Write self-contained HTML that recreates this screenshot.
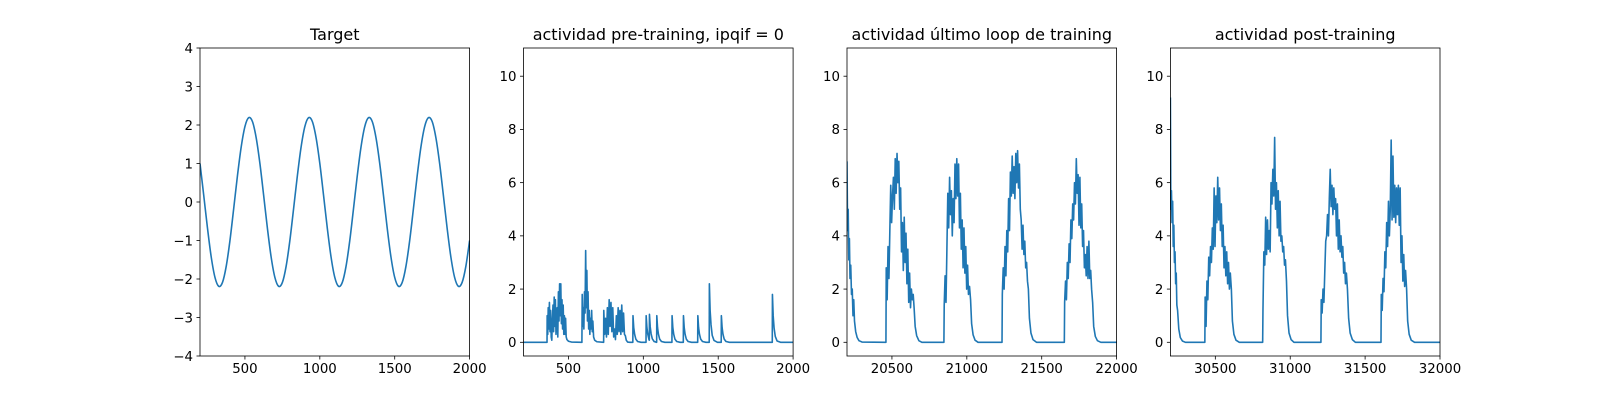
<!DOCTYPE html>
<html><head><meta charset="utf-8"><style>
html,body{margin:0;padding:0;background:#fff;}
svg text{font-family:"DejaVu Sans","Liberation Sans",sans-serif;fill:#000;}
</style></head><body>
<svg id="fig" width="1600" height="400" viewBox="0 0 1600 400" xmlns="http://www.w3.org/2000/svg"></svg>
<script>
// ---- Panel 1: target ----
const targetX = [200,225,250,275,300,325,350,375,400,425,450,475,500,525,550,575,600,625,650,675,700,725,750,775,800,825,850,875,900,925,950,975,1000,1025,1050,1075,1100,1125,1150,1175,1200,1225,1250,1275,1300,1325,1350,1375,1400,1425,1450,1475,1500,1525,1550,1575,1600,1625,1650,1675,1700,1725,1750,1775,1800,1825,1850,1875,1900,1925,1950,1975,2000];
const targetY = [1.00,0.17,-0.68,-1.43,-1.96,-2.19,-2.09,-1.67,-1.00,-0.17,0.68,1.43,1.96,2.19,2.09,1.67,
1.00,0.17,-0.68,-1.43,-1.96,-2.19,-2.09,-1.67,-1.00,-0.17,0.68,1.43,1.96,2.19,2.09,1.67,
1.00,0.17,-0.68,-1.43,-1.96,-2.19,-2.09,-1.67,-1.00,-0.17,0.68,1.43,1.96,2.19,2.09,1.67,
1.00,0.17,-0.68,-1.43,-1.96,-2.19,-2.09,-1.67,-1.00,-0.17,0.68,1.43,1.96,2.19,2.09,1.67,
1.00,0.17,-0.68,-1.43,-1.96,-2.19,-2.09,-1.67,-1.00];
// ---- Panel 2: pre-training ----
const preX = [200,357,358,362,365,369,373,377,381,385,389,393,397,401,405,409,413,417,421,425,429,433,437,441,445,449,453,457,461,465,469,473,477,481,485,490,500,520,590,
592,596,600,603,607,611,615,619,623,627,631,635,639,643,647,651,655,659,663,668,675,690,735,
736,742,748,754,760,766,772,778,784,790,796,802,808,814,820,826,832,838,844,850,856,862,868,874,880,886,895,910,
930,931,936,942,950,962,985,1018,1019,1024,1030,1038,1040,1041,1046,1052,1060,1072,1089,1090,1095,1101,1109,1121,1144,1191,1192,1197,1203,1211,1223,1246,1267,1268,1273,1279,1287,1299,1322,1363,1364,1369,1375,1383,1395,1418,1440,1441,1446,1452,1460,1472,1495,1520,1521,1526,1532,1540,1552,1575,1861,1862,1867,1873,1881,1893,1916,2000];
const preY = [0,0,1.0,0.3,1.3,0.5,1.5,0.4,1.2,0.2,0.08,0.9,1.4,0.4,1.7,0.6,1.6,0.3,0.9,1.3,0.2,1.9,0.8,2.2,1.0,2.2,0.7,1.6,0.5,1.4,0.3,1.0,0.3,0.9,0.2,0.1,0.04,0.01,0,
1.8,0.6,1.3,0.5,1.9,1.1,3.45,1.3,2.7,0.8,1.9,0.5,1.2,0.3,0.9,0.5,1.2,0.4,0.8,0.2,0.08,0.02,0,
1.2,0.3,0.9,0.2,1.3,0.3,1.6,0.6,1.5,0.4,1.3,0.2,0.5,0.1,1.0,0.3,1.3,0.4,1.2,0.3,1.4,0.4,1.1,0.3,0.25,0.08,0.01,0,
0,1.0,0.55,0.3,0.12,0.03,0,0,1.0,0.55,0.3,0.1,0.08,1.05,0.58,0.32,0.13,0.03,0,1.0,0.55,0.3,0.12,0.03,0,0,1.0,0.55,0.3,0.12,0.03,0,0,1.0,0.55,0.3,0.12,0.03,0,0,1.0,0.55,0.3,0.12,0.03,0,0,2.2,1.2,0.66,0.26,0.07,0,0,1.0,0.55,0.3,0.12,0.03,0,0,1.8,1.0,0.54,0.22,0.05,0,0];
// ---- Panel 3: last training loop ----
const lastX = [20200,20204,20208,20212,20216,20220,20225,20230,20235,20240,20245,20250,20258,20268,20280,20300,20459,
20460,20462,20468,20474,20480,20486,20492,20498,20504,20510,20516,20522,20528,20534,20540,20546,20552,20558,20564,20570,20576,20582,20588,20594,20600,20606,20612,20618,20624,20630,20636,20642,20648,20655,20665,20680,20700,
20847,20849,20855,20861,20867,20873,20879,20885,20891,20897,20903,20909,20915,20921,20927,20933,20939,20945,20951,20957,20963,20969,20975,20981,20987,20993,20999,21005,21011,21018,21025,21032,21042,21055,21075,
21235,21237,21243,21249,21255,21261,21267,21273,21279,21285,21291,21297,21303,21309,21315,21321,21327,21333,21339,21345,21351,21357,21363,21369,21375,21381,21387,21393,21399,21405,21411,21418,21428,21442,21465,
21651,21653,21659,21665,21671,21677,21683,21689,21695,21701,21707,21713,21719,21725,21731,21737,21743,21749,21755,21761,21767,21773,21779,21785,21791,21797,21803,21809,21815,21821,21827,21833,21840,21847,21858,21872,21895,22000];
const lastY = [6.8,4.2,5.0,3.1,3.9,2.4,2.9,1.8,2.0,1.0,1.6,0.8,0.4,0.18,0.06,0.01,0,
0,2.8,1.6,3.6,2.4,4.2,5.9,4.5,5.5,6.2,5.0,6.9,5.6,7.1,6.0,6.8,5.0,5.8,3.4,4.5,2.7,4.7,3.0,4.1,2.2,3.5,1.5,2.6,1.3,2.0,1.6,1.8,1.3,0.6,0.25,0.06,0,
0,1.4,2.5,1.5,3.5,5.6,4.3,6.2,4.8,5.7,4.0,5.4,4.5,6.7,5.4,6.9,5.5,6.7,4.3,5.6,3.5,4.6,2.8,4.3,2.6,3.6,2.0,2.9,1.8,2.1,1.6,0.7,0.28,0.08,0,
0,1.8,2.8,2.0,3.6,2.5,4.2,3.4,5.4,4.2,6.4,5.5,7.0,5.6,6.6,5.4,7.1,6.0,7.2,5.8,6.7,5.0,4.6,3.5,4.4,3.3,3.8,2.8,3.0,2.3,2.0,0.9,0.35,0.1,0,
0,1.5,2.3,1.6,3.0,2.4,3.7,3.0,4.6,3.9,5.2,4.6,6.0,5.2,6.9,5.6,6.3,4.4,6.2,4.3,5.2,3.6,4.2,2.8,3.3,2.5,3.6,2.4,3.8,2.4,2.7,2.0,1.5,0.6,0.22,0.06,0,0];
// ---- Panel 4: post-training ----
const postX = [30200,30203,30207,30211,30215,30219,30223,30227,30231,30235,30239,30243,30248,30256,30266,30280,30300,30430,
30432,30438,30444,30450,30456,30462,30468,30474,30480,30486,30492,30498,30504,30510,30516,30522,30528,30534,30540,30546,30552,30558,30564,30570,30576,30582,30588,30594,30600,30607,30614,30624,30638,30660,
30816,30818,30824,30830,30836,30842,30848,30854,30860,30866,30872,30878,30884,30890,30896,30902,30908,30914,30920,30926,30932,30938,30944,30950,30956,30962,30968,30975,30982,30992,31006,31025,
31205,31207,31213,31219,31225,31231,31237,31243,31249,31255,31261,31267,31273,31279,31285,31291,31297,31303,31309,31315,31321,31327,31333,31339,31345,31351,31357,31363,31369,31375,31382,31390,31400,31415,31435,
31606,31608,31614,31620,31626,31632,31638,31644,31650,31656,31662,31668,31674,31680,31686,31692,31698,31704,31710,31716,31722,31728,31734,31740,31746,31752,31758,31764,31770,31777,31784,31794,31808,31830,32000];
const postY = [9.2,5.0,5.7,4.5,5.3,3.6,4.4,3.0,3.4,2.2,2.6,1.4,1.2,0.5,0.18,0.05,0,0,
1.7,0.6,2.3,1.6,3.2,2.5,3.6,3.0,4.3,3.5,5.8,3.6,5.5,4.5,6.2,4.6,5.8,4.2,5.2,3.6,4.4,2.8,3.6,2.5,3.4,2.2,3.0,2.0,2.6,2.0,0.8,0.3,0.08,0,
0,1.2,3.4,2.9,4.7,3.3,4.6,3.5,4.2,3.4,6.0,5.2,6.5,5.5,7.7,5.0,6.0,4.3,5.7,4.0,5.3,3.8,4.0,3.4,3.6,2.9,3.1,2.3,1.0,0.35,0.1,0,
0,1.6,1.1,2.0,1.5,2.7,3.8,4.0,4.8,4.0,5.4,6.5,5.1,5.9,4.8,5.8,5.0,5.4,4.0,5.2,3.5,4.6,3.4,4.0,3.2,3.6,2.6,3.0,2.2,2.6,2.0,0.9,0.35,0.1,0,
0,1.8,1.2,2.4,1.9,3.4,2.8,4.5,3.6,5.3,4.0,5.0,7.6,4.6,7.0,4.7,5.9,4.5,5.8,4.8,5.9,4.4,5.8,3.0,4.0,2.3,3.3,2.1,2.7,2.0,0.8,0.3,0.08,0,0];
// tick labels
const ticks1Y = [-4,-3,-2,-1,0,1,2,3,4];
const ticksActY = [0,2,4,6,8,10];
const ticks12X = [500,1000,1500,2000];
const ticks3X = [20500,21000,21500,22000];
const ticks4X = [30500,31000,31500,32000];

const NS = "http://www.w3.org/2000/svg";
const svg = document.getElementById('fig');
function mk(tag, attrs, parent){const e=document.createElementNS(NS,tag);for(const k in attrs)e.setAttribute(k,attrs[k]);(parent||svg).appendChild(e);return e;}
function fmt(v){return v<0?'\u2212'+Math.abs(v):String(v);}

const TOP=48, BOT=356, W=269.6;
const panels = [
 {left:200, xmin:200, xmax:2000, ymin:-4, ymax:4, xs:targetX, ys:targetY, xt:ticks12X, yt:ticks1Y, title:'Target', name:'target', smooth:true},
 {left:523.5, xmin:200, xmax:2000, ymin:-0.515, ymax:11.06, xs:preX, ys:preY, xt:ticks12X, yt:ticksActY, title:'actividad pre-training, ipqif = 0', name:'pre-training'},
 {left:847, xmin:20200, xmax:22000, ymin:-0.515, ymax:11.06, xs:lastX, ys:lastY, xt:ticks3X, yt:ticksActY, title:'actividad último loop de training', name:'last-loop'},
 {left:1170.4, xmin:30200, xmax:32000, ymin:-0.515, ymax:11.06, xs:postX, ys:postY, xt:ticks4X, yt:ticksActY, title:'actividad post-training', name:'post-training'}
];
panels.forEach((p,i)=>{
  const sx=v=>p.left+(v-p.xmin)/(p.xmax-p.xmin)*W;
  const sy=v=>BOT-(v-p.ymin)/(p.ymax-p.ymin)*(BOT-TOP);
  const g=mk('g',{});
  
  
  const cp=mk('clipPath',{id:'clip'+i},g);
  mk('rect',{x:p.left,y:TOP,width:W,height:BOT-TOP},cp);
  const n=Math.min(p.xs.length,p.ys.length);
  const P=[];for(let k=0;k<n;k++)P.push([sx(p.xs[k]),sy(p.ys[k])]);
  let d='M'+P[0][0].toFixed(2)+','+P[0][1].toFixed(2);
  for(let k=1;k<n;k++){
    if(p.smooth){
      const p0=P[Math.max(k-2,0)],p1=P[k-1],p2=P[k],p3=P[Math.min(k+1,n-1)];
      const c1x=p1[0]+(p2[0]-p0[0])/6,c1y=p1[1]+(p2[1]-p0[1])/6;
      const c2x=p2[0]-(p3[0]-p1[0])/6,c2y=p2[1]-(p3[1]-p1[1])/6;
      d+='C'+c1x.toFixed(2)+','+c1y.toFixed(2)+' '+c2x.toFixed(2)+','+c2y.toFixed(2)+' '+p2[0].toFixed(2)+','+p2[1].toFixed(2);
    } else d+='L'+P[k][0].toFixed(2)+','+P[k][1].toFixed(2);
  }
  const line=mk('path',{d:d,fill:'none',stroke:'#1f77b4','stroke-width':1.6,'stroke-linejoin':'round','clip-path':'url(#clip'+i+')'},g);
  
  
  const fr=mk('rect',{x:p.left,y:TOP,width:W,height:BOT-TOP,fill:'none',stroke:'#000','stroke-width':0.8},g);
  
  
  p.xt.forEach(t=>{
    const x=sx(t);
    mk('line',{x1:x,x2:x,y1:BOT,y2:BOT+3.5,stroke:'#000','stroke-width':0.8},g);
    const tx=mk('text',{x:x,y:BOT+17,'text-anchor':'middle','font-size':'13.33px'},g);
    tx.textContent=fmt(t);
    
    
  });
  p.yt.forEach(t=>{
    const y=sy(t);
    mk('line',{x1:p.left-3.5,x2:p.left,y1:y,y2:y,stroke:'#000','stroke-width':0.8},g);
    const tx=mk('text',{x:p.left-7,y:y+4.8,'text-anchor':'end','font-size':'13.33px'},g);
    tx.textContent=fmt(t);
    
    
  });
  const ti=mk('text',{x:p.left+W/2,y:TOP-8,'text-anchor':'middle','font-size':'16px'},g);
  ti.textContent=p.title;
  
  
});
</script>
</body></html>
